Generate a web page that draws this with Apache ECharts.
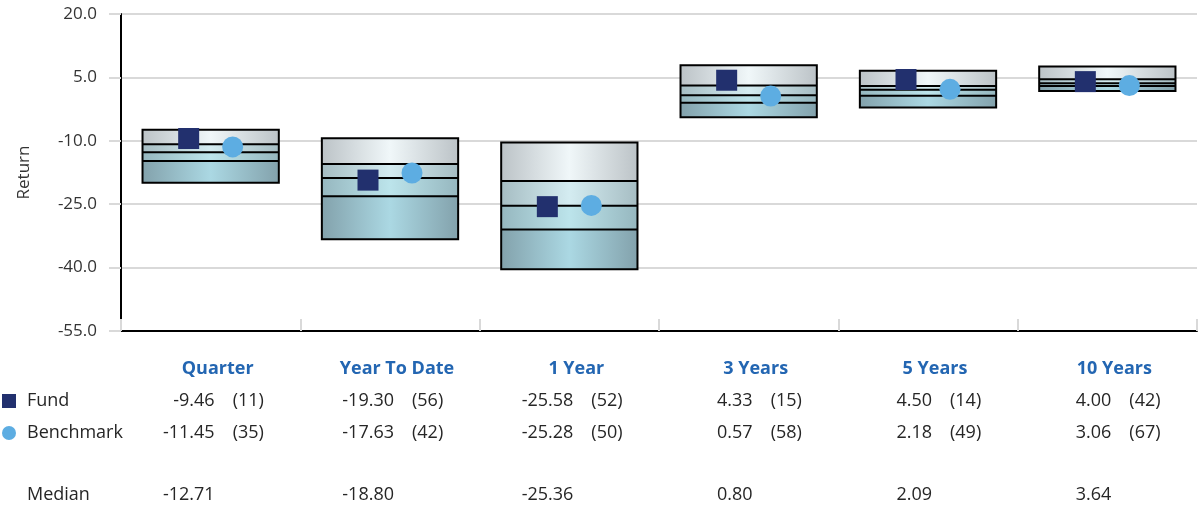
<!DOCTYPE html>
<html><head><meta charset="utf-8">
<script src="https://cdn.jsdelivr.net/npm/echarts@6/dist/echarts.min.js"></script>
<style>html,body{margin:0;padding:0;background:#fff}#c{width:1203px;height:508px}</style>
</head><body><div id="c"></div>
<script>
const categories = ['Quarter', 'Year To Date', '1 Year', '3 Years', '5 Years', '10 Years'];
const pctTop    = [-7.4, -9.4, -10.4, 7.9, 6.6, 7.55];
const pctQ1     = [-10.8, -15.5, -19.5, 3.1, 2.95, 4.55];
const median    = [-12.71, -18.80, -25.36, 0.80, 2.09, 3.64];
const pctQ3     = [-14.8, -23.1, -31.0, -1.0, 0.67, 2.95];
const pctBottom = [-19.9, -33.3, -40.4, -4.4, -2.1, 1.8];
const fund      = [-9.46, -19.30, -25.58, 4.33, 4.50, 4.00];
const fundRank  = [11, 56, 52, 15, 14, 42];
const bench     = [-11.45, -17.63, -25.28, 0.57, 2.18, 3.06];
const benchRank = [35, 42, 50, 58, 49, 67];
const yTicks    = [-55, -40, -25, -10, 5, 20];

const FONT = '"Open Sans", "Noto Sans", sans-serif';
const segColors = [
  ['#BCC3C7', '#F0F7F9'],
  ['#A6BDC3', '#D4ECF1'],
  ['#96B7BF', '#BCE4EB'],
  ['#83A2AC', '#ABD8E3']
];
function grad(c) {
  return new echarts.graphic.LinearGradient(0, 0, 1, 0, [
    {offset: 0, color: c[0]}, {offset: 0.5, color: c[1]}, {offset: 1, color: c[0]}
  ]);
}
const boxData = categories.map((c, i) => [i, pctTop[i], pctQ1[i], median[i], pctQ3[i], pctBottom[i]]);

const chart = echarts.init(document.getElementById('c'), null, {renderer: 'canvas'});
const option = {
  animation: false,
  grid: {left: 121, right: 6, top: 14, bottom: 177, containLabel: false},
  xAxis: {
    type: 'category', data: categories, boundaryGap: true,
    axisLine: {onZero: false, lineStyle: {color: '#000', width: 2}},
    axisTick: {show: true, inside: true, length: 12, lineStyle: {color: '#d9d9d9', width: 2}},
    axisLabel: {show: false}
  },
  yAxis: {
    type: 'value', min: yTicks[0], max: yTicks[yTicks.length - 1], interval: 15,
    name: 'Return', nameLocation: 'middle', nameGap: 88, nameRotate: 90,
    nameTextStyle: {fontFamily: FONT, fontSize: 17, color: '#333'},
    axisLine: {show: true, lineStyle: {color: '#000', width: 2}},
    axisTick: {show: true, length: 12, lineStyle: {color: '#d9d9d9', width: 2}},
    axisLabel: {margin: 24, fontFamily: FONT, fontSize: 17, color: '#333', formatter: v => v.toFixed(1)},
    splitLine: {lineStyle: {color: '#d9d9d9', width: 2}}
  },
  series: [
    {
      type: 'custom', data: boxData, z: 2,
      encode: {x: 0, y: [1, 2, 3, 4, 5]},
      renderItem: function (params, api) {
        const xi = api.value(0);
        const vals = [api.value(1), api.value(2), api.value(3), api.value(4), api.value(5)];
        const w = api.size([1, 0])[0] * 0.76;
        const cx = api.coord([xi, 0])[0];
        const ys = vals.map(v => api.coord([xi, v])[1]);
        const x0 = cx - w / 2;
        const children = [];
        for (let k = 0; k < 4; k++) {
          children.push({type: 'rect', shape: {x: x0, y: ys[k], width: w, height: ys[k + 1] - ys[k]},
            style: {fill: grad(segColors[k])}});
        }
        for (let k = 1; k < 4; k++) {
          children.push({type: 'line', shape: {x1: x0, y1: ys[k], x2: x0 + w, y2: ys[k]},
            style: {stroke: '#000', lineWidth: 2}});
        }
        children.push({type: 'rect', shape: {x: x0, y: ys[0], width: w, height: ys[4] - ys[0]},
          style: {fill: null, stroke: '#000', lineWidth: 2}});
        return {type: 'group', children: children};
      }
    },
    {
      type: 'scatter', name: 'Fund', z: 5, data: categories.map((c, i) => [c, fund[i]]),
      symbol: 'rect', symbolSize: 21, symbolOffset: [-22, 0],
      itemStyle: {color: '#22306E', opacity: 1}
    },
    {
      type: 'scatter', name: 'Benchmark', z: 5, data: categories.map((c, i) => [c, bench[i]]),
      symbol: 'circle', symbolSize: 21, symbolOffset: [22, 0],
      itemStyle: {color: '#5DADE2', opacity: 1}
    }
  ]
};
chart.setOption(option);

const rowY = {head: 369, fund: 401, bench: 433, median: 495};
const texts = [];
const txt = (x, y, s, align, extra) => texts.push({
  type: 'text', x: x, y: y,
  style: Object.assign({text: s, fontFamily: FONT, fontSize: 18, fill: '#262626', align: align, verticalAlign: 'middle'}, extra || {})
});
categories.forEach((c, i) => {
  const cx = chart.convertToPixel({xAxisIndex: 0}, c);
  txt(cx + 7, rowY.head, c, 'center', {fontWeight: 'bold', fill: '#2366B2'});
  const rx = cx + 4;
  txt(rx, rowY.fund, fund[i].toFixed(2), 'right');
  txt(rx + 18, rowY.fund, '(' + fundRank[i] + ')', 'left');
  txt(rx, rowY.bench, bench[i].toFixed(2), 'right');
  txt(rx + 18, rowY.bench, '(' + benchRank[i] + ')', 'left');
  txt(rx, rowY.median, median[i].toFixed(2), 'right');
});
txt(27, rowY.fund, 'Fund', 'left');
txt(27, rowY.bench, 'Benchmark', 'left');
txt(27, rowY.median, 'Median', 'left');
texts.push({type: 'rect', shape: {x: 2, y: rowY.fund - 7, width: 14, height: 14}, style: {fill: '#22306E'}});
texts.push({type: 'circle', shape: {cx: 9, cy: rowY.bench, r: 7}, style: {fill: '#5DADE2'}});
chart.setOption({graphic: {elements: texts}});
</script>
</body></html>
